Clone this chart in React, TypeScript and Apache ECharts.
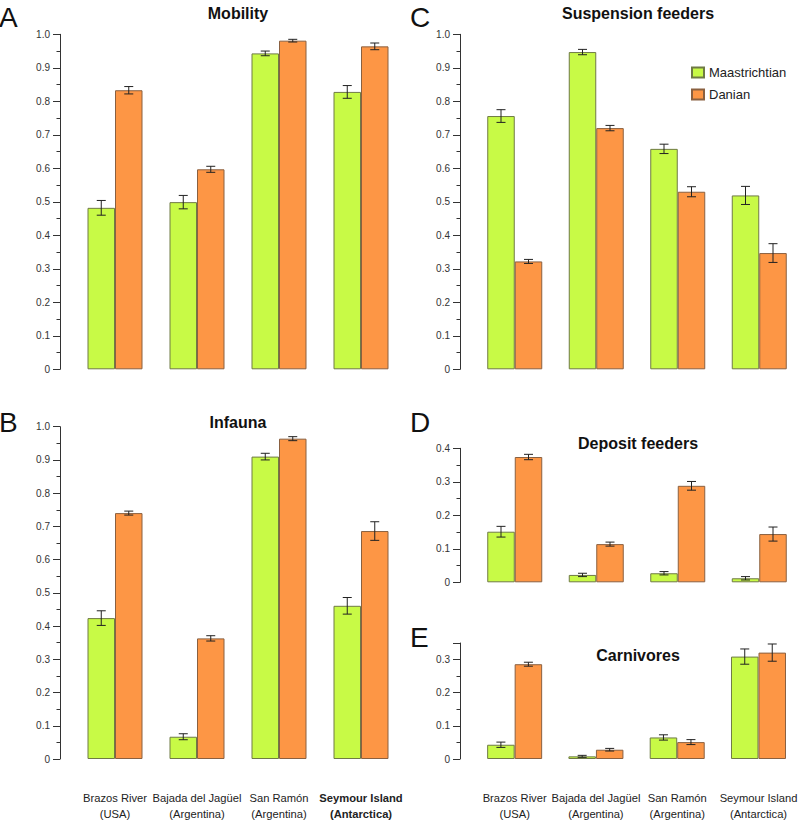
import React, { useEffect, useRef } from "react";
import * as echarts from "echarts";

const categories = [
  "Brazos River\n(USA)",
  "Bajada del Jagüel\n(Argentina)",
  "San Ramón\n(Argentina)",
  "Seymour Island\n(Antarctica)",
];
const seriesNames = ["Maastrichtian", "Danian"];

const mobilityMaas = [0.482, 0.499, 0.943, 0.828];
const mobilityMaasErr = [0.022, 0.02, 0.007, 0.019];
const mobilityDan = [0.833, 0.597, 0.981, 0.964];
const mobilityDanErr = [0.011, 0.009, 0.004, 0.01];

const infaunaMaas = [0.424, 0.067, 0.91, 0.461];
const infaunaMaasErr = [0.022, 0.009, 0.01, 0.025];
const infaunaDan = [0.74, 0.363, 0.964, 0.686];
const infaunaDanErr = [0.006, 0.008, 0.006, 0.028];

const suspMaas = [0.756, 0.947, 0.658, 0.519];
const suspMaasErr = [0.019, 0.008, 0.014, 0.027];
const suspDan = [0.322, 0.72, 0.53, 0.347];
const suspDanErr = [0.006, 0.008, 0.015, 0.028];

const depMaas = [0.151, 0.022, 0.027, 0.012];
const depMaasErr = [0.016, 0.005, 0.005, 0.005];
const depDan = [0.374, 0.114, 0.288, 0.144];
const depDanErr = [0.008, 0.006, 0.013, 0.021];

const carnMaas = [0.043, 0.008, 0.065, 0.309];
const carnMaasErr = [0.008, 0.003, 0.008, 0.023];
const carnDan = [0.286, 0.028, 0.051, 0.321];
const carnDanErr = [0.006, 0.004, 0.0075, 0.026];

const GREEN = "#c8fa46";
const ORANGE = "#fd9645";
const BAR_W = 27.5;

type Panel = {
  letter: string;
  title: string;
  maas: number[];
  maasErr: number[];
  dan: number[];
  danErr: number[];
  grid: { left: number; top: number; height: number };
  max: number;
  showLabels: boolean;
  boldLast: boolean;
  titlePos: [number, number];
  letterPos: [number, number];
};

const panels: Panel[] = [
  {
    letter: "A", title: "Mobility", maas: mobilityMaas, maasErr: mobilityMaasErr,
    dan: mobilityDan, danErr: mobilityDanErr,
    grid: { left: 74, top: 34.3, height: 335 }, max: 1, showLabels: false, boldLast: false,
    titlePos: [238, 13], letterPos: [-1, 17],
  },
  {
    letter: "B", title: "Infauna", maas: infaunaMaas, maasErr: infaunaMaasErr,
    dan: infaunaDan, danErr: infaunaDanErr,
    grid: { left: 74, top: 426.7, height: 334 }, max: 1, showLabels: true, boldLast: true,
    titlePos: [238, 422], letterPos: [-1, 422],
  },
  {
    letter: "C", title: "Suspension feeders", maas: suspMaas, maasErr: suspMaasErr,
    dan: suspDan, danErr: suspDanErr,
    grid: { left: 474, top: 34.3, height: 335 }, max: 1, showLabels: false, boldLast: false,
    titlePos: [638, 13], letterPos: [410, 17],
  },
  {
    letter: "D", title: "Deposit feeders", maas: depMaas, maasErr: depMaasErr,
    dan: depDan, danErr: depDanErr,
    grid: { left: 474, top: 448.3, height: 134 }, max: 0.4, showLabels: false, boldLast: false,
    titlePos: [638, 443], letterPos: [410, 422],
  },
  {
    letter: "E", title: "Carnivores", maas: carnMaas, maasErr: carnMaasErr,
    dan: carnDan, danErr: carnDanErr,
    grid: { left: 474, top: 643, height: 117.7 }, max: 0.35, showLabels: true, boldLast: false,
    titlePos: [638, 655], letterPos: [410, 637],
  },
];

function buildOption() {
  const grid: any[] = [];
  const xAxis: any[] = [];
  const yAxis: any[] = [];
  const series: any[] = [];
  const graphic: any[] = [];

  panels.forEach((p, i) => {
    grid.push({ left: p.grid.left, top: p.grid.top, width: 328, height: p.grid.height, containLabel: false });
    xAxis.push({
      type: "category",
      gridIndex: i,
      data: categories.map((c, k) =>
        p.boldLast && k === categories.length - 1
          ? { value: c, textStyle: { fontWeight: "bold" } }
          : c
      ),
      axisLine: { show: false },
      axisTick: { show: false },
      axisLabel: {
        show: p.showLabels,
        interval: 0,
        margin: 31,
        fontSize: 11.2,
        lineHeight: 16,
        color: "#222",
        fontFamily: "'Liberation Sans', Arial, sans-serif",
      },
    });
    yAxis.push({
      type: "value",
      gridIndex: i,
      min: 0,
      max: p.max,
      interval: 0.1,
      offset: 14,
      splitLine: { show: false },
      axisLine: { show: true, lineStyle: { color: "#333", width: 1 } },
      axisTick: { show: true, length: 7, lineStyle: { color: "#333" } },
      minorTick: { show: true, splitNumber: 2, length: 3.5, lineStyle: { color: "#333" } },
      axisLabel: {
        fontSize: 10,
        color: "#333",
        margin: 10,
        fontFamily: "'Liberation Sans', Arial, sans-serif",
        showMaxLabel: p.max === 0.35 ? false : true,
        formatter: (v: number) => (v === 0 ? "0" : v.toFixed(1)),
      },
    });

    series.push({
      name: seriesNames[0],
      type: "bar",
      xAxisIndex: i,
      yAxisIndex: i,
      data: p.maas,
      barWidth: BAR_W,
      barGap: "0%",
      itemStyle: { color: GREEN, borderColor: "#6f7a45", borderWidth: 1 },
    });
    series.push({
      name: seriesNames[1],
      type: "bar",
      xAxisIndex: i,
      yAxisIndex: i,
      data: p.dan,
      barWidth: BAR_W,
      barGap: "0%",
      itemStyle: { color: ORANGE, borderColor: "#8a6040", borderWidth: 1 },
    });
    const errData: number[][] = [];
    p.maas.forEach((m, k) => errData.push([k, m, p.maasErr[k], -1]));
    p.dan.forEach((m, k) => errData.push([k, m, p.danErr[k], 1]));
    series.push({
      name: "err" + i,
      type: "custom",
      xAxisIndex: i,
      yAxisIndex: i,
      z: 10,
      encode: { x: 0, y: 1 },
      data: errData,
      renderItem: (params: any, api: any) => {
        const x = api.value(0);
        const m = api.value(1);
        const e = api.value(2);
        const side = api.value(3);
        const top = api.coord([x, m + e]);
        const bot = api.coord([x, m - e]);
        const cx = top[0] + (side * BAR_W) / 2;
        const st = { stroke: "#222", lineWidth: 1 };
        return {
          type: "group",
          children: [
            { type: "line", shape: { x1: cx, y1: top[1], x2: cx, y2: bot[1] }, style: st },
            { type: "line", shape: { x1: cx - 4.5, y1: top[1], x2: cx + 4.5, y2: top[1] }, style: st },
            { type: "line", shape: { x1: cx - 4.5, y1: bot[1], x2: cx + 4.5, y2: bot[1] }, style: st },
          ],
        };
      },
    });

    graphic.push({
      type: "text",
      x: p.titlePos[0],
      y: p.titlePos[1],
      style: {
        text: p.title,
        font: "bold 16px 'Liberation Sans', Arial, sans-serif",
        fill: "#111",
        textAlign: "center",
        textVerticalAlign: "middle",
      },
    });
    graphic.push({
      type: "text",
      x: p.letterPos[0],
      y: p.letterPos[1],
      style: {
        text: p.letter,
        font: "28px 'Liberation Sans', Arial, sans-serif",
        fill: "#111",
        textAlign: "left",
        textVerticalAlign: "middle",
      },
    });
  });

  return {
    animation: false,
    backgroundColor: "#ffffff",
    grid,
    xAxis,
    yAxis,
    series,
    graphic,
    legend: {
      data: seriesNames,
      orient: "vertical",
      left: 686,
      top: 61,
      itemWidth: 12,
      itemHeight: 10,
      itemGap: 9,
      icon: "rect",
      textStyle: { fontSize: 13, color: "#222", fontFamily: "'Liberation Sans', Arial, sans-serif" },
      selectedMode: false,
    },
  };
}

export default function App() {
  const ref = useRef<HTMLDivElement>(null);
  useEffect(() => {
    if (!ref.current) return;
    const chart = echarts.init(ref.current, undefined, { renderer: "svg" });
    chart.setOption(buildOption() as any);
    return () => chart.dispose();
  }, []);
  return (
    <div
      ref={ref}
      style={{ position: "absolute", left: 0, top: 0, width: 800, height: 822, background: "#fff" }}
    />
  );
}
